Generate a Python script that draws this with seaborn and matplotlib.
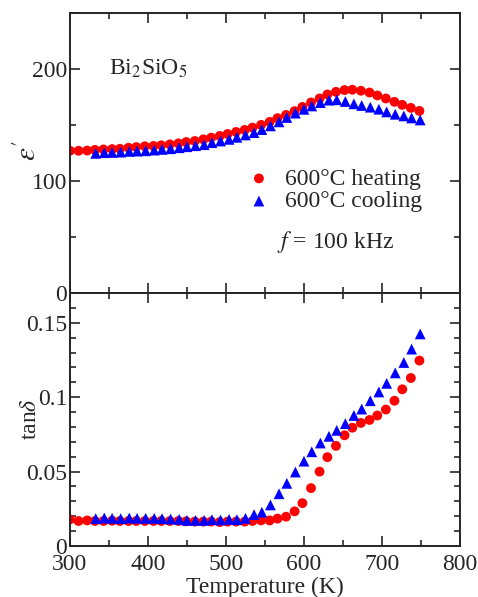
import seaborn as sns
import matplotlib.pyplot as plt
import matplotlib.ticker as mticker
import pandas as pd

# temperatures (K)
T_heat = [300, 311, 322, 332, 343, 354, 364, 375, 385, 396, 407, 417, 428, 439, 449,
          460, 471, 481, 492, 502, 513, 524, 534, 545, 556, 566, 577, 588, 598, 609,
          620, 630, 641, 652, 662, 673, 684, 694, 705, 716, 726, 737, 748]
T_cool = [333, 344, 354, 365, 376, 386, 397, 408, 418, 429, 440, 450, 461, 472, 482,
          493, 504, 514, 525, 536, 546, 557, 568, 578, 589, 600, 610, 621, 632, 642,
          653, 664, 674, 685, 696, 706, 717, 728, 738, 749]

# dielectric constant
eps_heat = [127.0, 127.0, 127.2, 127.8, 128.2, 128.5, 128.8, 129.7, 130.3, 131.0,
            131.3, 131.9, 132.7, 133.6, 134.8, 135.7, 137.2, 138.7, 140.2, 142.0,
            143.8, 145.6, 147.7, 150.1, 152.8, 156.1, 159.0, 162.4, 166.2, 170.1,
            173.7, 177.3, 179.6, 181.2, 181.5, 180.6, 179.0, 176.4, 173.7, 170.7,
            168.0, 165.3, 162.6]
eps_cool = [124.7, 125.3, 125.5, 125.8, 126.4, 126.7, 127.0, 127.6, 128.2, 128.8,
            129.7, 130.6, 131.5, 132.4, 134.2, 135.7, 137.2, 139.0, 141.1, 143.2,
            145.9, 149.2, 152.8, 156.7, 160.6, 164.0, 167.0, 170.0, 172.2, 172.5,
            171.0, 168.9, 167.4, 165.9, 164.1, 161.7, 159.6, 158.1, 156.3, 154.5]

# loss tangent
tan_heat = [0.0179, 0.0168, 0.0172, 0.0168, 0.0168, 0.0170, 0.0168, 0.0168, 0.0168, 0.0168,
            0.0168, 0.0168, 0.0168, 0.0168, 0.0166, 0.0164, 0.0164, 0.0164, 0.0161, 0.0164,
            0.0164, 0.0164, 0.0168, 0.0172, 0.0172, 0.0184, 0.0197, 0.0233, 0.0288, 0.0389,
            0.0500, 0.0597, 0.0673, 0.0744, 0.0795, 0.0827, 0.0847, 0.0877, 0.0917, 0.0976,
            0.1053, 0.1129, 0.1246]
tan_cool = [0.0184, 0.0188, 0.0186, 0.0184, 0.0188, 0.0186, 0.0186, 0.0186, 0.0184, 0.0181,
            0.0179, 0.0172, 0.0172, 0.0172, 0.0177, 0.0175, 0.0179, 0.0177, 0.0186, 0.0211,
            0.0227, 0.0276, 0.0351, 0.0421, 0.0497, 0.0570, 0.0633, 0.0692, 0.0737, 0.0777,
            0.0822, 0.0877, 0.0920, 0.0976, 0.1035, 0.1093, 0.1163, 0.1233, 0.1323, 0.1425]

heat = pd.DataFrame({"T": T_heat, "eps": eps_heat, "tan": tan_heat})
cool = pd.DataFrame({"T": T_cool, "eps": eps_cool, "tan": tan_cool})

sns.set_style("ticks")
plt.rcParams["font.family"] = ["Liberation Serif", "DejaVu Serif"]
plt.rcParams["mathtext.fontset"] = "stix"
plt.rcParams["font.size"] = 17

fig = plt.figure(figsize=(4.78, 5.97), dpi=100)
ax1 = fig.add_axes([0.1464, 0.5092, 0.8159, 0.4690])
ax2 = fig.add_axes([0.1464, 0.0854, 0.8159, 0.4238])

for ax, col in [(ax1, "eps"), (ax2, "tan")]:
    sns.scatterplot(data=heat, x="T", y=col, ax=ax, color="#ff0000", marker="o",
                    s=50, edgecolor="none", label="600°C heating")
    sns.scatterplot(data=cool, x="T", y=col, ax=ax, color="#0000ff", marker="^",
                    s=60, edgecolor="none", label="600°C cooling")
    ax.set_xlim(300, 800)
    ax.xaxis.set_major_locator(mticker.MultipleLocator(100))
    ax.xaxis.set_minor_locator(mticker.MultipleLocator(50))
    ax.tick_params(which="both", direction="in", top=True, right=True, labelsize=17)
    ax.tick_params(axis="y", pad=2)
    ax.tick_params(axis="x", pad=6)
    ax.tick_params(which="major", length=7, width=1.2)
    ax.tick_params(which="minor", length=4, width=1.2)
    for sp in ax.spines.values():
        sp.set_linewidth(1.4)

# top panel
ax1.set_ylim(0, 250)
ax1.yaxis.set_major_locator(mticker.MultipleLocator(100))
ax1.yaxis.set_minor_locator(mticker.MultipleLocator(50))
ax1.set_xticklabels([])
ax1.set_xlabel("")
ax1.set_ylabel(r"$\varepsilon'$", fontsize=21)
ax1.yaxis.set_label_coords(-0.072, 0.51)
ax1.text(0.10, 0.78, r"Bi$_2$SiO$_5$", transform=ax1.transAxes, fontsize=17)
ax1.text(0.53, 0.16, r"$f$ = 100 kHz", transform=ax1.transAxes, fontsize=17)
ax1.legend(loc="upper left", bbox_to_anchor=(0.43, 0.48), frameon=False,
           handlelength=1.0, handletextpad=0.6, labelspacing=0.05,
           borderaxespad=0, fontsize=17)

# bottom panel
ax2.set_ylim(0, 0.17)
ax2.yaxis.set_major_locator(mticker.MultipleLocator(0.05))
ax2.yaxis.set_minor_locator(mticker.MultipleLocator(0.01))
ax2.yaxis.set_major_formatter(mticker.FuncFormatter(lambda v, p: f"{v:g}"))
ax2.legend().remove()
ax2.set_xlabel("Temperature (K)", fontsize=17, labelpad=1)
ax2.set_ylabel(r"tan$\delta$", fontsize=17)
ax2.yaxis.set_label_coords(-0.075, 0.5)

fig.savefig("out.png", dpi=100)
